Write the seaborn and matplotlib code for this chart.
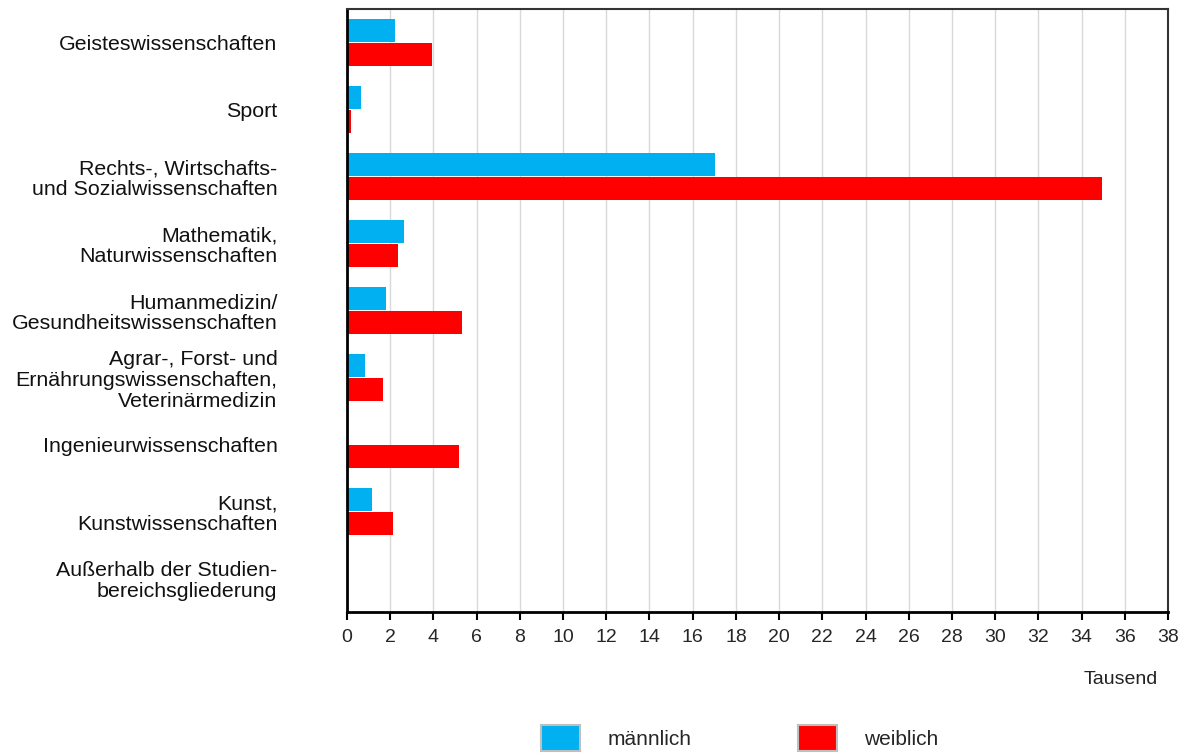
import matplotlib
matplotlib.use("Agg")
import matplotlib.pyplot as plt
from matplotlib.patches import Patch
import seaborn as sns
import pandas as pd

bereiche = [
    "Geisteswissenschaften",
    "Sport",
    "Rechts-, Wirtschafts-\nund Sozialwissenschaften",
    "Mathematik,\nNaturwissenschaften",
    "Humanmedizin/\nGesundheitswissenschaften",
    "Agrar-, Forst- und\nErnährungswissenschaften,\nVeterinärmedizin",
    "Ingenieurwissenschaften",
    "Kunst,\nKunstwissenschaften",
    "Außerhalb der Studien-\nbereichsgliederung",
]
maennlich = [2.22, 0.65, 17.05, 2.64, 1.81, 0.83, 0.05, 1.16, 0.0]
weiblich = [3.94, 0.19, 34.94, 2.36, 5.33, 1.67, 5.19, 2.13, 0.0]
geschlechter = ["männlich", "weiblich"]
farben = ["#00B0F0", "#FF0000"]

df = pd.DataFrame({"Bereich": bereiche, "männlich": maennlich, "weiblich": weiblich})
df = df.melt(id_vars="Bereich", var_name="Geschlecht", value_name="Tausend")

sns.set_style("white")
plt.rcParams["font.family"] = ["Liberation Sans", "DejaVu Sans"]
narrow = ["Liberation Sans Narrow", "Liberation Sans", "DejaVu Sans"]

fig = plt.figure(figsize=(11.87, 7.56), dpi=100)
ax = fig.add_axes([0.2923, 0.1905, 0.6917, 0.7975])

sns.barplot(data=df, y="Bereich", x="Tausend", hue="Geschlecht",
            hue_order=geschlechter, palette=farben, orient="h", saturation=1,
            width=0.72, gap=0.06, linewidth=0, legend=False, ax=ax, zorder=3)

ax.set_xlim(0, 38)
ax.set_ylim(8.5, -0.5)
ax.set_xticks(range(0, 39, 2))
ax.grid(axis="x", color="#D9D9D9", linewidth=1, zorder=0)
ax.grid(axis="y", visible=False)
ax.set_xlabel("")
ax.set_ylabel("")

for lbl in ax.get_xticklabels():
    lbl.set_family(narrow)
    lbl.set_fontsize(14)
for lbl in ax.get_yticklabels():
    lbl.set_fontsize(15.4)
    lbl.set_linespacing(1.12)
    lbl.set_color("#111111")

ax.tick_params(axis="x", bottom=True, length=6, width=1.5, color="black", pad=6)
ax.tick_params(axis="y", left=False, length=0, pad=50)

for side in ["left", "bottom"]:
    ax.spines[side].set_color("black")
    ax.spines[side].set_linewidth(2)
for side in ["top", "right"]:
    ax.spines[side].set_color("#333333")
    ax.spines[side].set_linewidth(1.5)
for sp in ax.spines.values():
    sp.set_zorder(5)

fig.text(1158 / 1187, 1 - 680 / 756, "Tausend", ha="right", va="center",
         fontsize=14, family=narrow, color="#222222")

handles = [Patch(facecolor=c, edgecolor="#BFBFBF", linewidth=1.5) for c in farben]
fig.legend(handles, geschlechter, loc="center", bbox_to_anchor=(0.623, 1 - 738 / 756),
           ncol=2, frameon=False, prop={"family": narrow, "size": 15},
           handlelength=1.9, handleheight=1.6, handletextpad=1.3, columnspacing=5.1)

fig.savefig("out.png", dpi=100)
